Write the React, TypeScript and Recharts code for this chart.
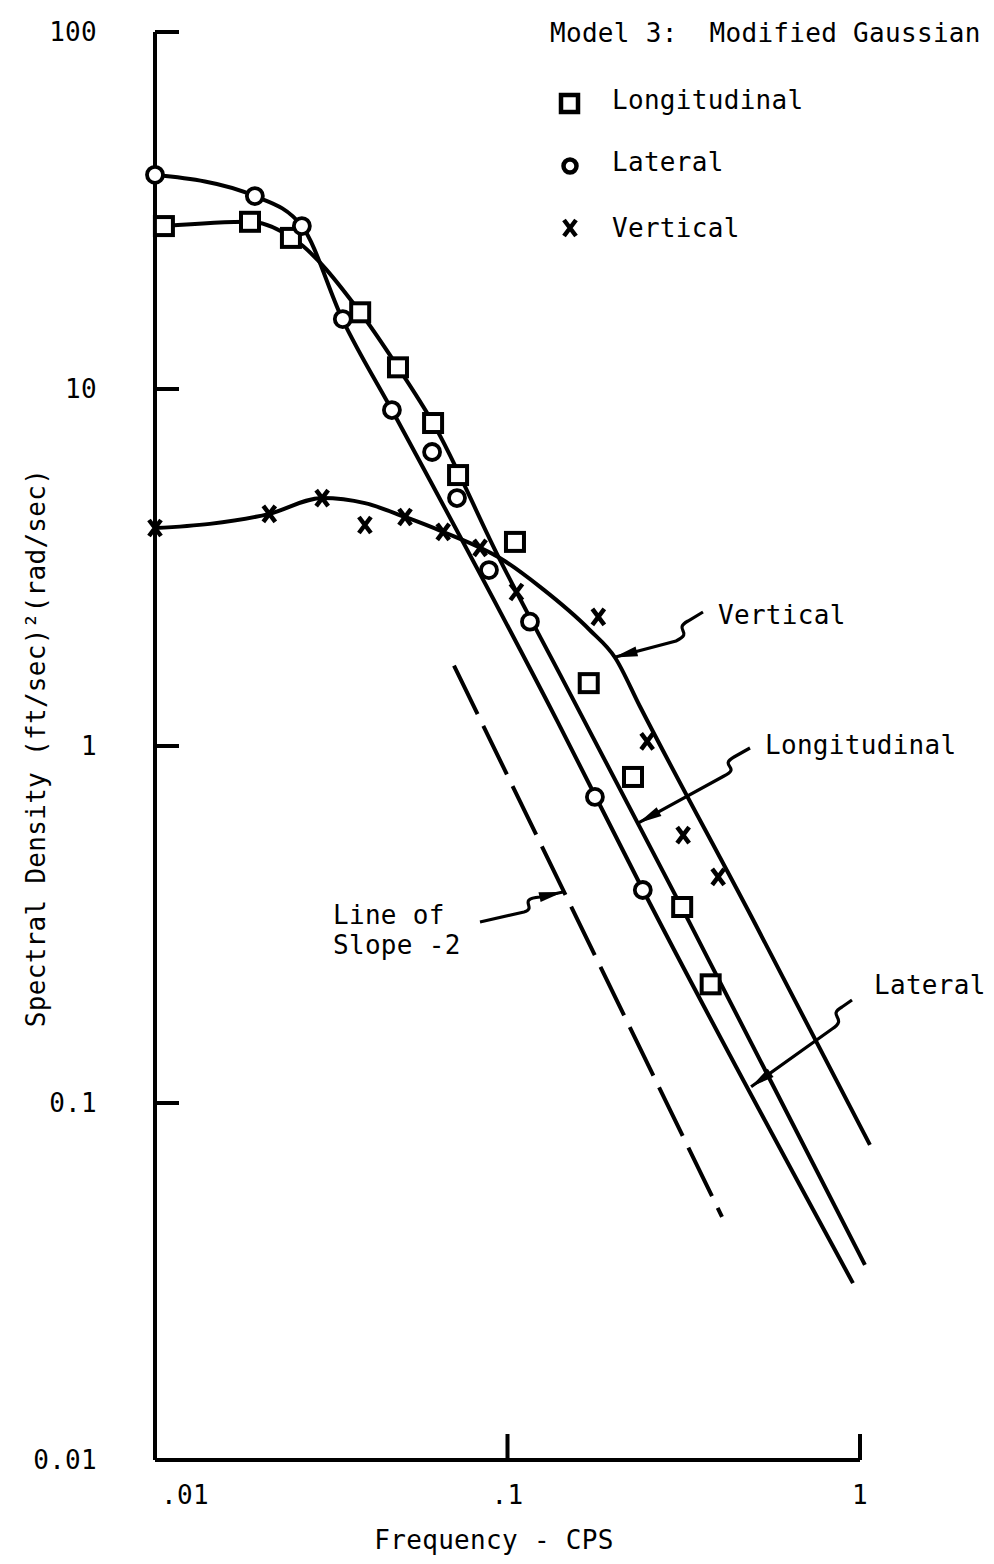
import React from 'react';
import { ComposedChart, Line, Scatter, XAxis, YAxis, ReferenceLine } from 'recharts';

const FONT = '"DejaVu Sans Mono", monospace';
const INK = '#000';

// frequency (cps) vs spectral density, measured points
const longitudinalPoints = [
  { f: 0.0106, s: 28.6 },
  { f: 0.0186, s: 29.4 },
  { f: 0.0243, s: 26.5 },
  { f: 0.0382, s: 16.4 },
  { f: 0.0489, s: 11.5 },
  { f: 0.0615, s: 8.03 },
  { f: 0.0724, s: 5.74 },
  { f: 0.105, s: 3.73 },
  { f: 0.17, s: 1.5 },
  { f: 0.227, s: 0.819 },
  { f: 0.313, s: 0.354 },
  { f: 0.377, s: 0.215 },
];

const lateralPoints = [
  { f: 0.01, s: 39.8 },
  { f: 0.0192, s: 34.7 },
  { f: 0.0261, s: 28.6 },
  { f: 0.0341, s: 15.7 },
  { f: 0.047, s: 8.73 },
  { f: 0.0611, s: 6.66 },
  { f: 0.0719, s: 4.95 },
  { f: 0.0886, s: 3.11 },
  { f: 0.1158, s: 2.23 },
  { f: 0.177, s: 0.72 },
  { f: 0.242, s: 0.395 },
];

const verticalPoints = [
  { f: 0.01, s: 4.08 },
  { f: 0.0211, s: 4.47 },
  { f: 0.0298, s: 4.95 },
  { f: 0.0394, s: 4.16 },
  { f: 0.0512, s: 4.38 },
  { f: 0.0657, s: 3.98 },
  { f: 0.0836, s: 3.59 },
  { f: 0.106, s: 2.7 },
  { f: 0.181, s: 2.3 },
  { f: 0.249, s: 1.03 },
  { f: 0.315, s: 0.563 },
  { f: 0.396, s: 0.43 },
];

// model curves
const longitudinalFit = [
  { f: 0.0106, s: 28.6 },
  { f: 0.0186, s: 29.4 },
  { f: 0.0245, s: 26.5 },
  { f: 0.0382, s: 16.4 },
  { f: 0.0489, s: 11.5 },
  { f: 0.0615, s: 8.03 },
  { f: 0.0952, s: 3.32 },
  { f: 0.1437, s: 1.53 },
  { f: 0.3126, s: 0.352 },
  { f: 1.033, s: 0.0352 },
];

const lateralFit = [
  { f: 0.01, s: 39.8 },
  { f: 0.0192, s: 34.7 },
  { f: 0.0261, s: 28.6 },
  { f: 0.0341, s: 15.6 },
  { f: 0.047, s: 8.73 },
  { f: 0.1381, s: 1.18 },
  { f: 0.2423, s: 0.395 },
  { f: 0.955, s: 0.0313 },
];

const verticalFit = [
  { f: 0.01, s: 4.08 },
  { f: 0.0143, s: 4.19 },
  { f: 0.0211, s: 4.47 },
  { f: 0.0298, s: 4.95 },
  { f: 0.0394, s: 4.79 },
  { f: 0.0512, s: 4.38 },
  { f: 0.0656, s: 3.98 },
  { f: 0.0971, s: 3.32 },
  { f: 0.1237, s: 2.79 },
  { f: 0.1714, s: 2.11 },
  { f: 0.2018, s: 1.77 },
  { f: 0.2376, s: 1.29 },
  { f: 0.4973, s: 0.326 },
  { f: 1.067, s: 0.0763 },
];

const slopeLine = [
  { f: 0.0705, s: 1.68 },
  { f: 0.406, s: 0.048 },
];

const xTicks = [0.01, 0.1, 1];
const xTickLabels = ['.01', '.1', '1'];
const yTicks = [100, 10, 1, 0.1, 0.01];
const yTickLabels = ['100', '10', '1', '0.1', '0.01'];

// layout
const CHART_W = 994;
const CHART_H = 1564;
const LEFT = 155;
const TOP = 32;
const BOTTOM = 1460;
const X_MIN = 0.01;
const X_MAX = 1.08;
const Y_MIN = 0.01;
const Y_MAX = 100;
const X_DECADE = 352.5;
const PLOT_W = X_DECADE * Math.log10(X_MAX / X_MIN);
const PLOT_H = BOTTOM - TOP;
const Y_DECADE = PLOT_H / Math.log10(Y_MAX / Y_MIN);

const px = (f: number) => LEFT + X_DECADE * Math.log10(f / X_MIN);
const py = (s: number) => TOP + Y_DECADE * Math.log10(Y_MAX / s);

const labelFor = (v: number, ticks: number[], labels: string[]) => {
  const i = ticks.findIndex((t) => Math.abs(Math.log10(t / v)) < 1e-6);
  return i >= 0 ? labels[i] : String(v);
};

const textStyle = { fontFamily: FONT, fontSize: 26, letterSpacing: 0.3, fill: INK };
const LINE_W = 4;

function YTick({ x, y, payload }: any) {
  return (
    <g>
      <line x1={x} x2={x + 24} y1={y} y2={y} stroke={INK} strokeWidth={LINE_W} />
      <text x={x - 58} y={y} textAnchor="end" dominantBaseline="central" style={textStyle}>
        {labelFor(payload.value, yTicks, yTickLabels)}
      </text>
    </g>
  );
}

function XTick({ x, y, payload }: any) {
  const first = Math.abs(payload.value - X_MIN) < 1e-9;
  return (
    <g>
      <line x1={x} x2={x} y1={y} y2={y - 26} stroke={INK} strokeWidth={LINE_W} />
      <text
        x={first ? x + 6 : x}
        y={y + 44}
        textAnchor={first ? 'start' : 'middle'}
        style={textStyle}
      >
        {labelFor(payload.value, xTicks, xTickLabels)}
      </text>
    </g>
  );
}

const SquareMark = ({ cx, cy }: any) => (
  <rect x={cx - 9} y={cy - 9} width={18} height={18} fill="#fff" stroke={INK} strokeWidth={4} />
);
const CircleMark = ({ cx, cy }: any) => (
  <circle cx={cx} cy={cy} r={8} fill="#fff" stroke={INK} strokeWidth={3.8} />
);
const CrossMark = ({ cx, cy }: any) => (
  <path
    d={`M${cx - 6},${cy - 8}L${cx + 6},${cy + 8}M${cx + 6},${cy - 8}L${cx - 6},${cy + 8}`}
    stroke={INK}
    strokeWidth={4.5}
    fill="none"
  />
);

// leader lines: small squiggle near the label, arrow tip on the curve
const leaders = [
  { from: [703, 612], zig: [[688, 621], [672, 630], [695, 632], [676, 641]], tip: { f: 0.2, s: 1.77 } },
  { from: [750, 748], zig: [[734, 757], [718, 766], [742, 767], [724, 776]], tip: { f: 0.2345, s: 0.608 } },
  { from: [852, 1000], zig: [[842, 1007], [826, 1016], [849, 1018], [832, 1029]], tip: { f: 0.491, s: 0.111 } },
  { from: [480, 922], zig: [[524, 912], [538, 908], [516, 899], [540, 897]], tip: { f: 0.1437, s: 0.39 } },
];

function Leader({ from, zig, tip }: any) {
  const tx = px(tip.f);
  const ty = py(tip.s);
  const [a, c1, c2, b] = zig;
  const dx = tx - b[0];
  const dy = ty - b[1];
  const len = Math.hypot(dx, dy);
  const ux = dx / len;
  const uy = dy / len;
  const bx = tx - ux * 24;
  const by = ty - uy * 24;
  const head = `M${tx},${ty}L${bx - uy * 5},${by + ux * 5}L${bx + uy * 5},${by - ux * 5}Z`;
  return (
    <g>
      <path
        d={`M${from[0]},${from[1]}L${a[0]},${a[1]}C${c1[0]},${c1[1]} ${c2[0]},${c2[1]} ${b[0]},${b[1]}L${tx},${ty}`}
        stroke={INK}
        strokeWidth={3.2}
        fill="none"
      />
      <path d={head} fill={INK} />
    </g>
  );
}

export default function App() {
  return (
    <div style={{ position: 'absolute', left: 0, top: 0, width: CHART_W, height: CHART_H, background: '#fff' }}>
      <ComposedChart
        width={CHART_W}
        height={CHART_H}
        margin={{ top: TOP, right: CHART_W - LEFT - PLOT_W, bottom: 0, left: 0 }}
      >
        <XAxis
          type="number"
          dataKey="f"
          scale="log"
          domain={[X_MIN, X_MAX]}
          ticks={xTicks}
          interval={0}
          height={CHART_H - BOTTOM}
          axisLine={false}
          tickLine={false}
          tickSize={0}
          tickMargin={0}
          tick={<XTick />}
        />
        <YAxis
          type="number"
          dataKey="s"
          scale="log"
          domain={[Y_MIN, Y_MAX]}
          ticks={yTicks}
          interval={0}
          width={LEFT}
          axisLine={{ stroke: INK, strokeWidth: LINE_W }}
          tickLine={false}
          tickSize={0}
          tickMargin={0}
          tick={<YTick />}
        />
        <ReferenceLine
          segment={[{ x: X_MIN, y: Y_MIN }, { x: 1, y: Y_MIN }]}
          stroke={INK}
          strokeWidth={LINE_W}
          ifOverflow="visible"
        />
        <Line data={lateralFit} dataKey="s" type="monotoneX" stroke={INK} strokeWidth={LINE_W} dot={false} isAnimationActive={false} />
        <Line data={longitudinalFit} dataKey="s" type="monotoneX" stroke={INK} strokeWidth={LINE_W} dot={false} isAnimationActive={false} />
        <Line data={verticalFit} dataKey="s" type="monotoneX" stroke={INK} strokeWidth={LINE_W} dot={false} isAnimationActive={false} />
        <Line data={slopeLine} dataKey="s" type="linear" stroke={INK} strokeWidth={LINE_W} strokeDasharray="54 13" dot={false} isAnimationActive={false} />
        <Scatter data={longitudinalPoints} dataKey="s" shape={SquareMark} isAnimationActive={false} />
        <Scatter data={lateralPoints} dataKey="s" shape={CircleMark} isAnimationActive={false} />
        <Scatter data={verticalPoints} dataKey="s" shape={CrossMark} isAnimationActive={false} />
      </ComposedChart>

      <svg
        width={CHART_W}
        height={CHART_H}
        style={{ position: 'absolute', left: 0, top: 0, pointerEvents: 'none' }}
      >
        {/* legend */}
        <text x={550} y={42} style={textStyle} xmlSpace="preserve">Model 3:  Modified Gaussian</text>
        <rect x={561} y={95} width={17} height={17} fill="#fff" stroke={INK} strokeWidth={4.5} />
        <text x={612} y={109} style={textStyle}>Longitudinal</text>
        <circle cx={570} cy={166} r={6.5} fill="#fff" stroke={INK} strokeWidth={4.5} />
        <text x={612} y={171} style={textStyle}>Lateral</text>
        <CrossMark cx={570} cy={228} />
        <text x={612} y={237} style={textStyle}>Vertical</text>

        {/* curve labels */}
        <text x={718} y={624} style={textStyle}>Vertical</text>
        <text x={765} y={754} style={textStyle}>Longitudinal</text>
        <text x={874} y={994} style={textStyle}>Lateral</text>
        <text x={333} y={924} style={textStyle}>Line of</text>
        <text x={333} y={954} style={textStyle}>Slope -2</text>
        {leaders.map((l, i) => (
          <Leader key={i} {...l} />
        ))}

        {/* axis titles */}
        <text x={494} y={1549} textAnchor="middle" style={textStyle}>Frequency - CPS</text>
        <text
          x={45}
          y={748}
          textAnchor="middle"
          transform="rotate(-90 45 748)"
          style={textStyle}
        >
          Spectral Density (ft/sec)²(rad/sec)
        </text>
      </svg>
    </div>
  );
}
